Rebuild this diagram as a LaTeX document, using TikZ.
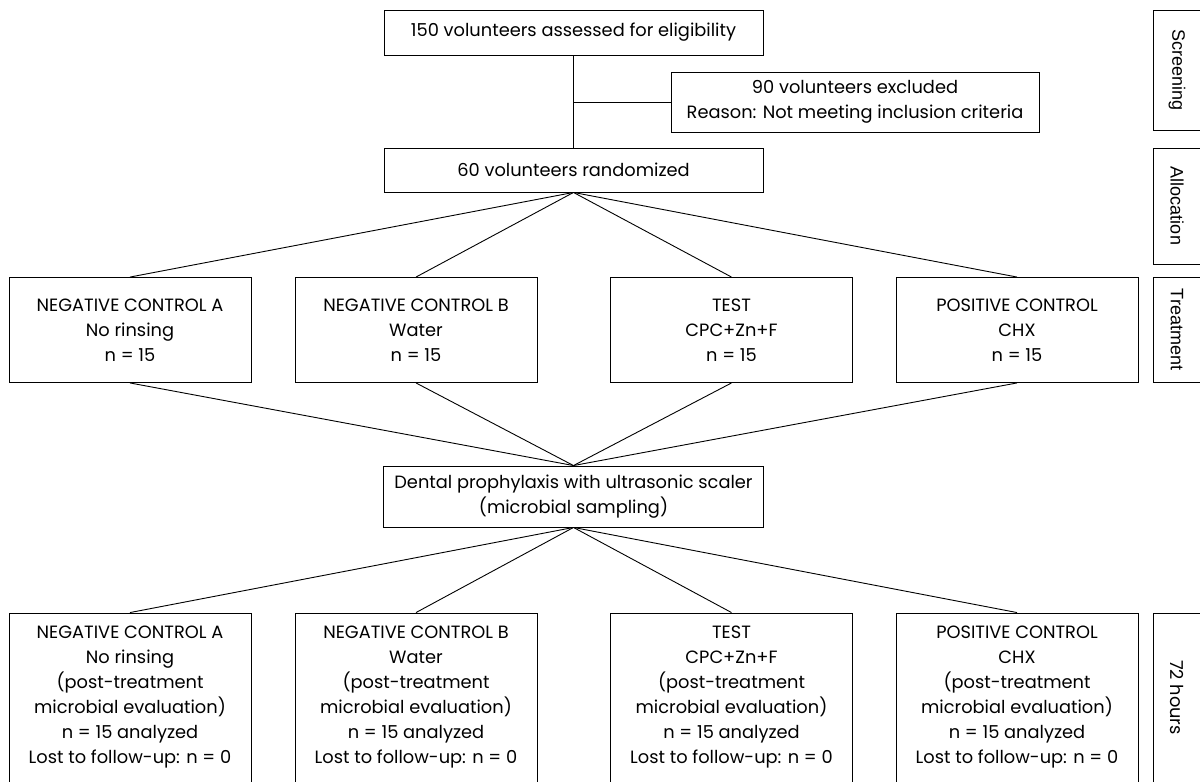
\documentclass[tikz,border=0pt]{standalone}
\usepackage{fontspec}
\setmainfont{Poppins}
\newfontfamily\sidefont{Liberation Sans}

\begin{document}
\begin{tikzpicture}[x=1pt,y=-1pt,line width=0.9pt,
    box/.style={draw,align=center,inner sep=2pt,font=\fontsize{17.8}{25}\selectfont},
    group/.style={box,minimum width=242pt,minimum height=105pt},
    evalbox/.style={box,minimum width=242pt,minimum height=169pt},
    side/.style={draw,rotate=-90,minimum height=48pt,inner sep=0pt,font=\sidefont\fontsize{18}{20}\selectfont}]
  \useasboundingbox (0,0) rectangle (1200,782);

  \node[box,minimum width=379pt,minimum height=45pt] (assessed) at (573.5,32.5) {150 volunteers assessed for eligibility};
  \node[box,minimum width=368pt,minimum height=60pt] (excluded) at (855,102) {90 volunteers excluded\\Reason: Not meeting inclusion criteria};
  \node[box,minimum width=379pt,minimum height=44pt] (randomized) at (573.5,170) {60 volunteers randomized};

  \node[group] (treatA) at (130,330) {NEGATIVE CONTROL A\\No rinsing\\n = 15};
  \node[group] (treatB) at (416,330) {NEGATIVE CONTROL B\\Water\\n = 15};
  \node[group] (treatC) at (731.5,330) {TEST\\CPC+Zn+F\\n = 15};
  \node[group] (treatD) at (1017,330) {POSITIVE CONTROL\\CHX\\n = 15};

  \node[box,minimum width=380pt,minimum height=61pt] (prophylaxis) at (573.5,496.5) {Dental prophylaxis with ultrasonic scaler\\(microbial sampling)};

  \node[evalbox] (evalA) at (130,697.5) {NEGATIVE CONTROL A\\No rinsing\\(post-treatment\\microbial evaluation)\\n = 15 analyzed\\Lost to follow-up: n = 0};
  \node[evalbox] (evalB) at (416,697.5) {NEGATIVE CONTROL B\\Water\\(post-treatment\\microbial evaluation)\\n = 15 analyzed\\Lost to follow-up: n = 0};
  \node[evalbox] (evalC) at (731.5,697.5) {TEST\\CPC+Zn+F\\(post-treatment\\microbial evaluation)\\n = 15 analyzed\\Lost to follow-up: n = 0};
  \node[evalbox] (evalD) at (1017,697.5) {POSITIVE CONTROL\\CHX\\(post-treatment\\microbial evaluation)\\n = 15 analyzed\\Lost to follow-up: n = 0};

  \node[side,minimum width=120pt] (screening) at (1177,70) {Screening};
  \node[side,minimum width=116pt] (allocation) at (1177,206) {Allocation};
  \node[side,minimum width=105pt] (treatment) at (1177,329.5) {Treatment};
  \node[side,minimum width=169pt,font=\fontsize{17.8}{25}\selectfont] (hours) at (1177,697.5) {72 hours};

  \draw (assessed.south) -- (randomized.north);
  \draw (assessed.south |- excluded.west) -- (excluded.west);
  \foreach \t in {treatA,treatB,treatC,treatD} {
    \draw (randomized.south) -- (\t.north);
    \draw (\t.south) -- (prophylaxis.north);
  }
  \foreach \e in {evalA,evalB,evalC,evalD}
    \draw (prophylaxis.south) -- (\e.north);

\end{tikzpicture}
\end{document}
